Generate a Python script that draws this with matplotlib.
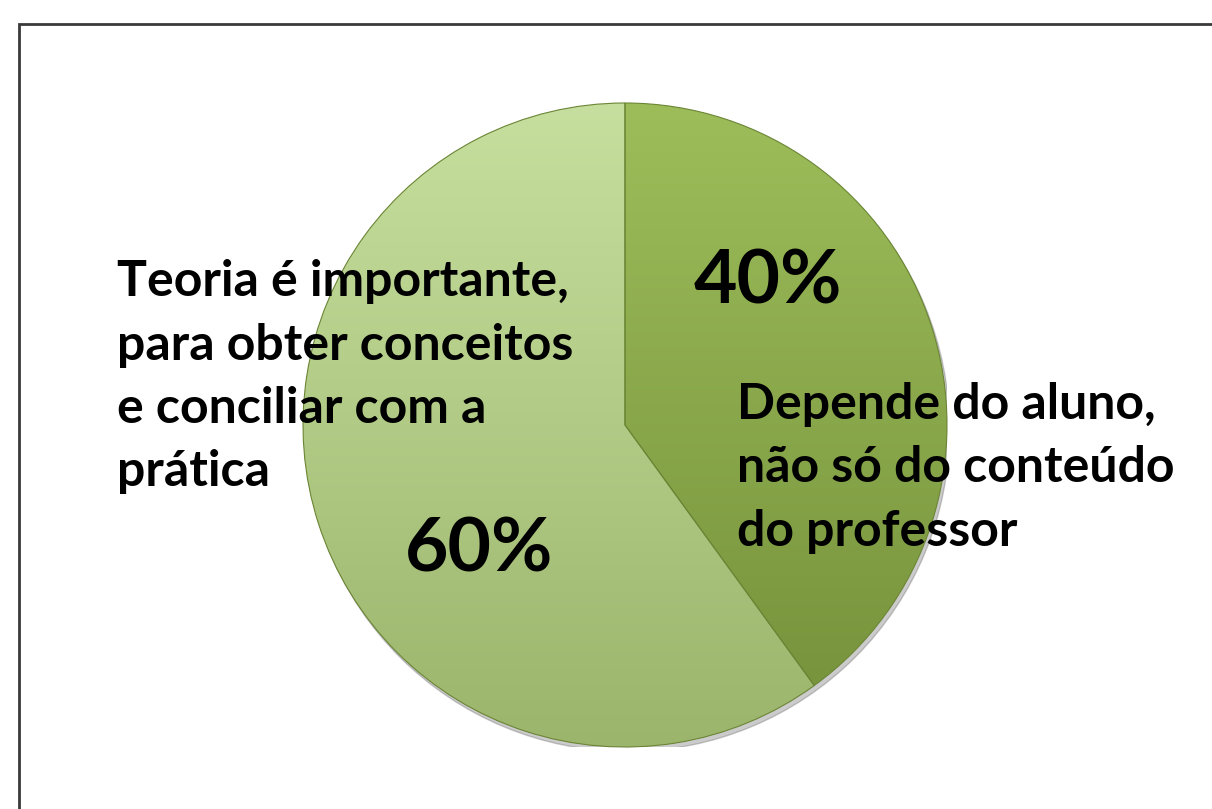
import numpy as np
import matplotlib.pyplot as plt
from matplotlib.patches import Rectangle
from matplotlib.colors import LinearSegmentedColormap

# data
labels = ['Depende do aluno,\nnão só do conteúdo\ndo professor',
          'Teoria é importante,\npara obter conceitos\ne conciliar com a\nprática']
values = [40, 60]
pct_text = ['40%', '60%']

# gradient colours for each slice (top -> bottom)
slice_colors = [('#9dbd5a', '#74903a'), ('#c6df9e', '#9cb56c')]

W, H = 1212, 809
fig = plt.figure(figsize=(W / 100, H / 100), dpi=100)
fig.patch.set_facecolor('white')

# pie center / radius in pixels
cx, cy, r = 625, 425, 322
ax = fig.add_axes([(cx - r) / W, (H - cy - r) / H, 2 * r / W, 2 * r / H])

# soft shadow behind the pie
shadow = plt.Circle((0.008, -0.014), 1.0, color='#555555', alpha=0.3, zorder=0)
ax.add_patch(shadow)

wedges, _ = ax.pie(values, startangle=90, counterclock=False,
                   colors=[c[0] for c in slice_colors],
                   wedgeprops=dict(edgecolor='#6b8535', linewidth=0.8))

grad = np.linspace(0, 1, 256).reshape(-1, 1)
for w, (c_top, c_bot) in zip(wedges, slice_colors):
    cmap = LinearSegmentedColormap.from_list('g', [c_bot, c_top])
    im = ax.imshow(grad, cmap=cmap, extent=[-1, 1, -1, 1], origin='lower',
                   aspect='auto', zorder=1, vmin=0, vmax=1)
    im.set_clip_path(w)
    w.set_facecolor('none')
    w.set_zorder(2)

ax.set_xlim(-1.0, 1.0)
ax.set_ylim(-1.0, 1.0)
ax.set_aspect('equal')
ax.axis('off')

font = 'Lato'

# slice labels (category text) and percentages
fig.text(737 / W, 1 - 382 / H, labels[0], fontsize=36, fontweight='bold',
         family=font, ha='left', va='top', linespacing=1.5)
fig.text(117 / W, 1 - 259 / H, labels[1], fontsize=36, fontweight='bold',
         family=font, ha='left', va='top', linespacing=1.5)
fig.text(768 / W, 1 - 282 / H, pct_text[0], fontsize=54, fontweight='bold',
         family=font, ha='center', va='center')
fig.text(479 / W, 1 - 550 / H, pct_text[1], fontsize=54, fontweight='bold',
         family=font, ha='center', va='center')

# chart border (cut off at right and bottom)
fig.patches.append(Rectangle((19 / W, -0.1), 1.2, 1.1 - 24 / H,
                             transform=fig.transFigure, fill=False,
                             edgecolor='#3a3a3a', linewidth=2.0))

fig.savefig('out.png', dpi=100)
